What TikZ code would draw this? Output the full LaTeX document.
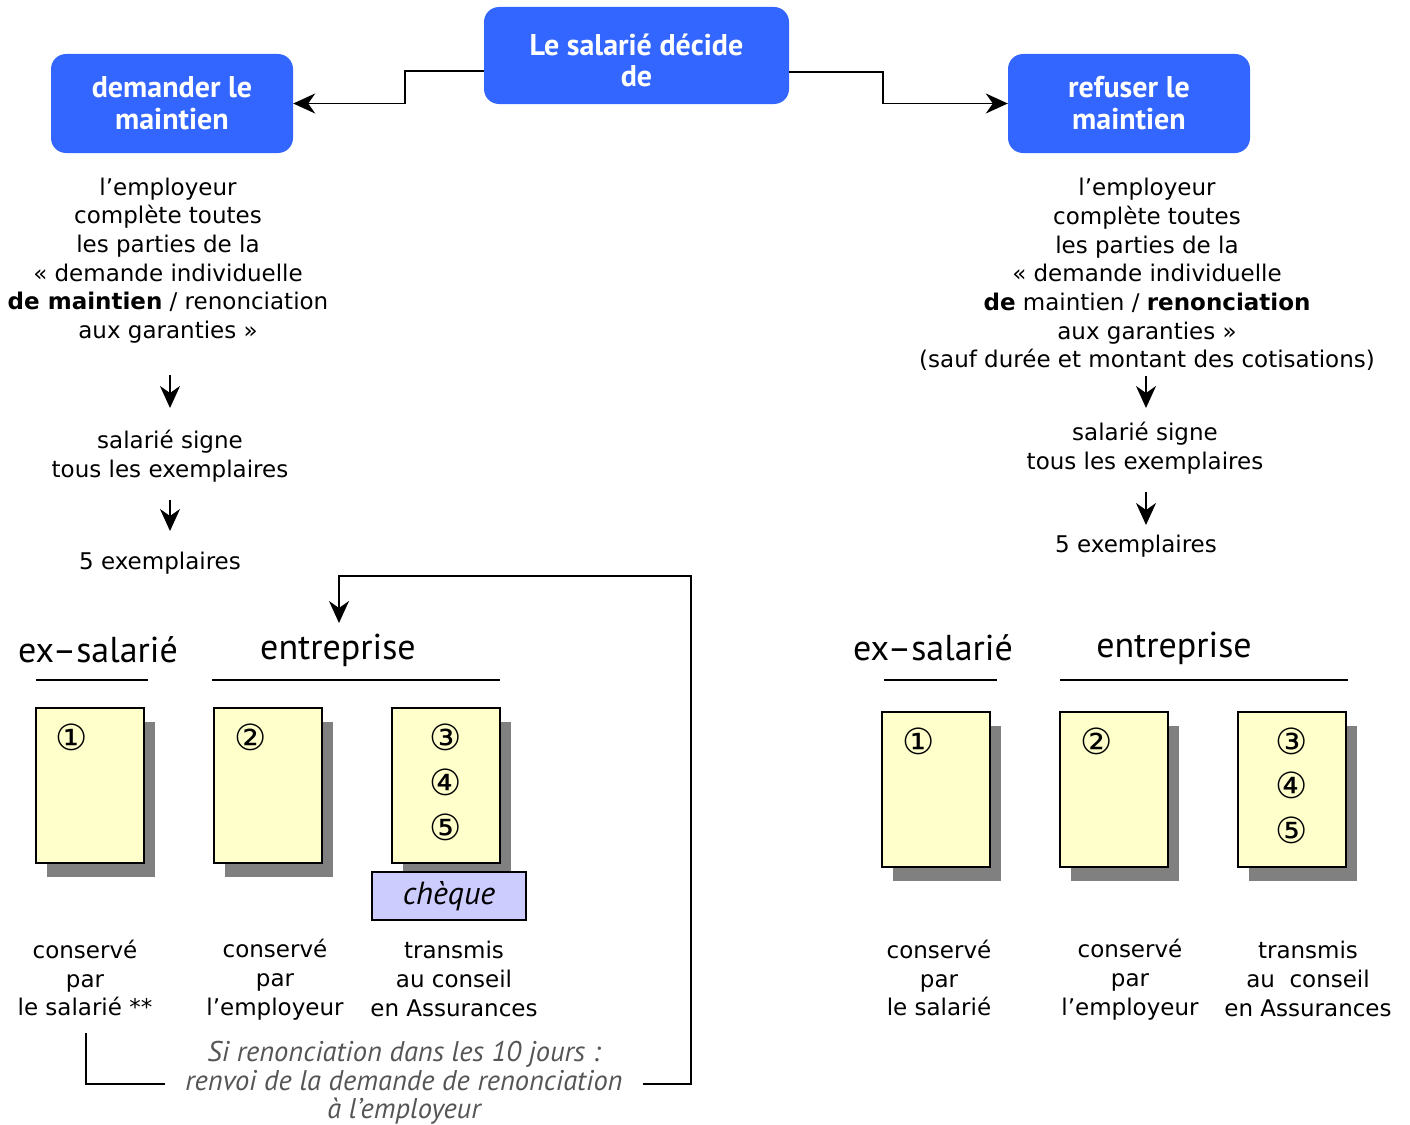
\documentclass[tikz,border=0pt]{standalone}
\usepackage{fontspec}
\setmainfont{DejaVu Sans}
\newfontfamily\narrowfont{PT Sans}
\usetikzlibrary{arrows.meta}
\definecolor{boxblue}{HTML}{3366FF}
\definecolor{docyellow}{HTML}{FFFFCC}
\definecolor{shadowgray}{HTML}{808080}
\definecolor{chequeblue}{HTML}{CCCCFF}
\definecolor{notegray}{HTML}{555555}
\tikzset{
  x=1pt, y=-1pt,
  bluebox/.style={fill=boxblue, rounded corners=15pt, text=white, align=center,
    font=\narrowfont\bfseries\fontsize{30}{32}\selectfont, inner sep=0pt},
  bluetext/.style={text=white, align=center, font=\narrowfont\bfseries\fontsize{30}{31}\selectfont, inner sep=0pt},
  body/.style={align=center, font=\fontsize{23}{28.7}\selectfont, inner sep=0pt},
  heading/.style={font=\narrowfont\fontsize{36}{38}\selectfont, inner sep=0pt},
  num/.style={font=\fontsize{36}{38}\selectfont, inner sep=0pt},
  doc/.style={draw=black, line width=1.5pt, fill=docyellow, minimum width=108pt, minimum height=155pt, inner sep=0pt},
  docshadow/.style={fill=shadowgray, minimum width=108pt, minimum height=155pt, inner sep=0pt},
  arr/.style={line width=1.8pt, -{Stealth[length=22pt,width=20pt,inset=7pt]}},
  plain/.style={line width=1.8pt},
  note/.style={align=center, text=notegray, font=\narrowfont\itshape\fontsize{28.5}{28.5}\selectfont, inner sep=0pt}
}
\begin{document}
\begin{tikzpicture}
\useasboundingbox (0,0) rectangle (1410,1124);

% top boxes
\node[bluebox, minimum width=305pt, minimum height=97pt] (top) at (636.5,55.5) {};
\node[bluetext] (toptext) at (top.center) [yshift=-5pt] {Le salarié décide\\de};
\node[bluebox, minimum width=242pt, minimum height=99pt] (dem) at (172,103.5) {demander le\\maintien};
\node[bluebox, minimum width=242pt, minimum height=99pt] (ref) at (1129,103.5) {refuser le\\maintien};

\coordinate (tl1) at (405,71);
\coordinate (tl2) at (405,103.5);
\coordinate (tr1) at (883,72);
\coordinate (tr2) at (883,103.5);
\draw[arr] (top.west |- tl1) -- (tl1) -- (tl2) -- (dem.east);
\draw[arr] (top.east |- tr1) -- (tr1) -- (tr2) -- (ref.west);

% left column text
\node[body] (lt1) at (168,260.5) {l’employeur\\complète toutes\\les parties de la\\« demande individuelle\\\textbf{de maintien} / renonciation\\aux garanties »};
\node[body] (lt2) at (170,456) {salarié signe\\tous les exemplaires};
\node[body] (lt3) at (160,563) {5 exemplaires};
\coordinate (la1) at (170,375); \coordinate (la2) at (170,408);
\coordinate (la3) at (170,500); \coordinate (la4) at (170,531);
\draw[arr] (la1) -- (la2);
\draw[arr] (la3) -- (la4);

% right column text
\node[body] (rt1) at (1147,274.5) {l’employeur\\complète toutes\\les parties de la\\« demande individuelle\\\textbf{de} maintien / \textbf{renonciation}\\aux garanties »\\(sauf durée et montant des cotisations)};
\node[body] (rt2) at (1145,448.5) {salarié signe\\tous les exemplaires};
\node[body] (rt3) at (1136,546) {5 exemplaires};
\coordinate (ra1) at (1146,376); \coordinate (ra2) at (1146,408);
\coordinate (ra3) at (1146,492); \coordinate (ra4) at (1146,525);
\draw[arr] (ra1) -- (ra2);
\draw[arr] (ra3) -- (ra4);

% left headings
\node[heading] (lh1) at (98,650) {ex–salarié};
\node[heading] (lh2) at (338,650) {entreprise};
\coordinate (lu1) at (36,680); \coordinate (lu2) at (148,680);
\coordinate (lu3) at (212,680); \coordinate (lu4) at (500,680);
\draw[plain] (lu1) -- (lu2);
\draw[plain] (lu3) -- (lu4);

% left docs
\node[docshadow] (ls1) at (101,799.5) {};
\node[docshadow] (ls2) at (279,799.5) {};
\node[docshadow] (ls3) at (457,799.5) {};
\node[doc] (ld1) at (90,785.5) {};
\node[doc] (ld2) at (268,785.5) {};
\node[doc] (ld3) at (446,785.5) {};
\node[num] (ln1) at (72,737) {①};
\node[num] (ln2) at (251,737) {②};
\node[num] (ln3) at (446,737) {③};
\node[num] (ln4) at (446,782) {④};
\node[num] (ln5) at (446,827) {⑤};
\node[draw=black, line width=1.5pt, fill=chequeblue, minimum width=154pt, minimum height=48pt, inner sep=0pt,
  font=\narrowfont\itshape\fontsize{32}{34}\selectfont] (chq) at (449,896) {chèque};

% left labels
\node[body] (ll1) at (85,978) {conservé\\par\\le salarié **};
\node[body] (ll2) at (275,979.5) {conservé\\par\\l’employeur};
\node[body] (ll3) at (454,979) {transmis\\au conseil\\en Assurances};

% feedback loop
\node[note] (fb) at (404,1083) {Si renonciation dans les 10 jours :\\renvoi de la demande de renonciation\\à l’employeur};
\coordinate (f1) at (86,1033);
\coordinate (f2) at (86,1084);
\coordinate (f3) at (165,1084);
\coordinate (f4) at (643,1084);
\coordinate (f5) at (691,1084);
\coordinate (f6) at (691,576);
\coordinate (f7) at (339,576);
\coordinate (f8) at (339,623);
\draw[plain] (f1) -- (f2) -- (f3);
\draw[arr] (f4) -- (f5) -- (f6) -- (f7) -- (f8);

% right headings
\node[heading] (rh1) at (933,648) {ex–salarié};
\node[heading] (rh2) at (1174,648) {entreprise};
\coordinate (ru1) at (884,680); \coordinate (ru2) at (997,680);
\coordinate (ru3) at (1060,680); \coordinate (ru4) at (1348,680);
\draw[plain] (ru1) -- (ru2);
\draw[plain] (ru3) -- (ru4);

% right docs
\node[docshadow] (rs1) at (947,803.5) {};
\node[docshadow] (rs2) at (1125,803.5) {};
\node[docshadow] (rs3) at (1303,803.5) {};
\node[doc] (rd1) at (936,789.5) {};
\node[doc] (rd2) at (1114,789.5) {};
\node[doc] (rd3) at (1292,789.5) {};
\node[num] (rn1) at (919,741) {①};
\node[num] (rn2) at (1097,741) {②};
\node[num] (rn3) at (1292,741) {③};
\node[num] (rn4) at (1292,785) {④};
\node[num] (rn5) at (1292,830) {⑤};

% right labels
\node[body] (rl1) at (939,978) {conservé\\par\\le salarié};
\node[body] (rl2) at (1130,979.5) {conservé\\par\\l’employeur};
\node[body] (rl3) at (1308,979) {transmis\\au\ \ conseil\\en Assurances};
\end{tikzpicture}
\end{document}
